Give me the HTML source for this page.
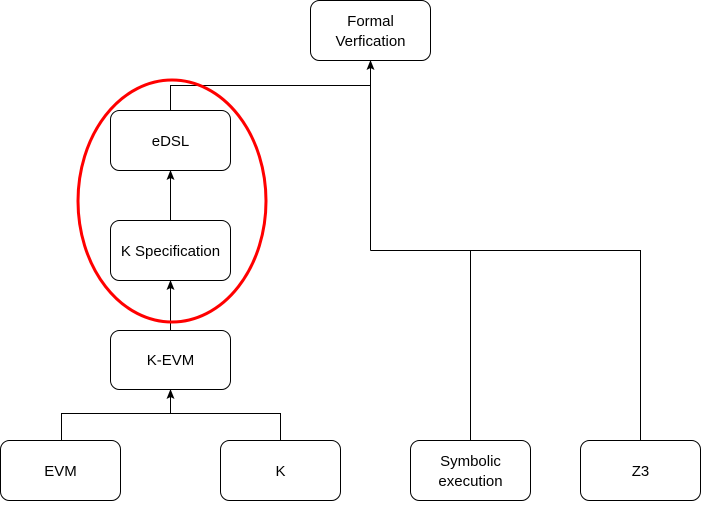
<!DOCTYPE html>
<html><head><meta charset="utf-8"><style>
html,body{margin:0;padding:0;background:#fff;}
svg text{font-family:"Liberation Sans",Helvetica,Arial,sans-serif;font-size:15px;fill:#000;}
</style></head><body>
<svg width="701" height="501" viewBox="0 0 701 501" xmlns="http://www.w3.org/2000/svg">
<defs><marker id="a" markerWidth="10" markerHeight="10" refX="9" refY="5" orient="auto" markerUnits="userSpaceOnUse" viewBox="0 0 10 10"><path d="M10,5 L0,1 L2,5 L0,9 Z" fill="#000"/></marker></defs>
<g fill="none" stroke="#000" stroke-width="1">
<path d="M170.5 110 V85.5 H370.5"/>
<path d="M370.5 250.5 V61" marker-end="url(#a)"/>
<path d="M370.5 250.5 H640.5 V440"/>
<path d="M470.5 250.5 V440"/>
<path d="M170.5 220 V171" marker-end="url(#a)"/>
<path d="M170.5 330 V281" marker-end="url(#a)"/>
<path d="M61.5 440 V413.5 H280.5 V440"/>
<path d="M170.5 413.5 V390" marker-end="url(#a)"/>
<rect x="310.5" y="0.5" width="120" height="60" rx="9"/>
<rect x="110.5" y="110.5" width="120" height="60" rx="9"/>
<rect x="110.5" y="220.5" width="120" height="60" rx="9"/>
<rect x="110.5" y="330.5" width="120" height="59" rx="9"/>
<rect x="0.5" y="440.5" width="120" height="60" rx="9"/>
<rect x="220.5" y="440.5" width="120" height="60" rx="9"/>
<rect x="410.5" y="440.5" width="120" height="60" rx="9"/>
<rect x="580.5" y="440.5" width="120" height="60" rx="9"/>
</g>
<ellipse cx="172" cy="201" rx="94" ry="121" fill="none" stroke="#f00" stroke-width="3"/>
<g text-anchor="middle">
<text x="370.5" y="26">Formal</text><text x="370.5" y="46">Verfication</text>
<text x="170.5" y="146">eDSL</text>
<text x="170.5" y="256">K Specification</text>
<text x="170.5" y="365">K-EVM</text>
<text x="60.5" y="476">EVM</text>
<text x="280.5" y="476">K</text>
<text x="470.5" y="466">Symbolic</text><text x="470.5" y="486">execution</text>
<text x="640.5" y="476">Z3</text>
</g>
</svg>
</body></html>
